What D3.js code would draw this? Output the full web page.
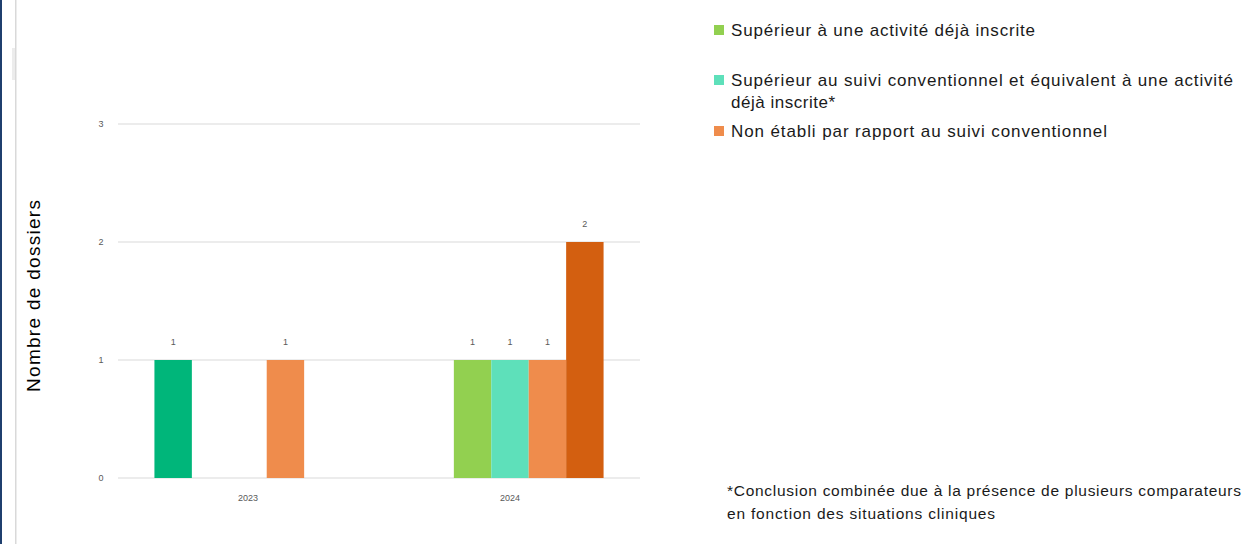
<!DOCTYPE html>
<html>
<head>
<meta charset="utf-8">
<script src="https://cdn.jsdelivr.net/npm/d3@7"></script>
<style>
  body { margin: 0; background: #fff; }
  svg { display: block; font-family: "Liberation Sans", Arial, sans-serif; }
</style>
</head>
<body>
<div id="chart"></div>
<script>
  var years = ["2023", "2024"];
  var seriesNames = ["s1", "Supérieur à une activité déjà inscrite", "Supérieur au suivi conventionnel et équivalent à une activité déjà inscrite*", "Non établi par rapport au suivi conventionnel", "s5"];
  var seriesColors = ["#00b67a", "#92d050", "#5ee0ba", "#ef8c4c", "#d35f10"];
  var seriesValues = [
    [1, 0],
    [0, 1],
    [0, 1],
    [1, 1],
    [0, 2]
  ];
  var yTicks = [0, 1, 2, 3];
  var legendItems = [1, 2, 3];

  var W = 1246, H = 544;
  var svg = d3.select('#chart').append('svg').attr('width', W).attr('height', H);

  // left frame bits
  svg.append('rect').attr('x', 0).attr('y', 0).attr('width', 2).attr('height', H).attr('fill', '#1f3f6e');
  svg.append('rect').attr('x', 15).attr('y', 0).attr('width', 1.5).attr('height', H).attr('fill', '#d9d9d9');
  svg.append('rect').attr('x', 12).attr('y', 48).attr('width', 3).attr('height', 32).attr('fill', '#ececec');

  var x0 = d3.scaleBand().domain(years).range([117, 641]);
  var x1 = d3.scaleBand().domain(d3.range(seriesNames.length)).range([0, x0.bandwidth()]).paddingOuter(1);
  var y = d3.scaleLinear().domain([0, 3]).range([478, 124]);

  // grid
  svg.append('g').selectAll('line').data(yTicks).enter().append('line')
    .attr('x1', 118).attr('x2', 640)
    .attr('y1', d => y(d)).attr('y2', d => y(d))
    .attr('stroke', '#d9d9d9').attr('stroke-width', 1);

  svg.append('g').selectAll('text').data(yTicks).enter().append('text')
    .attr('x', 101).attr('y', d => y(d) + 3)
    .attr('text-anchor', 'middle')
    .attr('font-size', 9).attr('fill', '#595959')
    .text(d => d);

  svg.append('g').selectAll('text').data(years).enter().append('text')
    .attr('x', d => x0(d) + x0.bandwidth() / 2).attr('y', 501)
    .attr('text-anchor', 'middle')
    .attr('font-size', 9).attr('fill', '#595959')
    .text(d => d);

  var bars = [];
  seriesValues.forEach(function (vals, s) {
    vals.forEach(function (v, i) {
      if (v > 0) bars.push({ s: s, year: years[i], v: v });
    });
  });

  svg.append('g').selectAll('rect').data(bars).enter().append('rect')
    .attr('x', d => x0(d.year) + x1(d.s))
    .attr('width', x1.bandwidth())
    .attr('y', d => y(d.v))
    .attr('height', d => y(0) - y(d.v))
    .attr('fill', d => seriesColors[d.s]);

  svg.append('g').selectAll('text').data(bars).enter().append('text')
    .attr('x', d => x0(d.year) + x1(d.s) + x1.bandwidth() / 2)
    .attr('y', d => y(d.v) - 15)
    .attr('text-anchor', 'middle')
    .attr('font-size', 9).attr('fill', '#595959')
    .text(d => d.v);

  svg.append('text')
    .attr('transform', 'translate(40,296) rotate(-90)')
    .attr('text-anchor', 'middle')
    .attr('font-size', 19).attr('fill', '#000')
    .attr('textLength', 192).attr('lengthAdjust', 'spacing')
    .text('Nombre de dossiers');

  // legend
  var legY = [30, 80, 131];
  var lg = svg.append('g');
  legendItems.forEach(function (s, k) {
    lg.append('rect').attr('x', 714).attr('y', legY[k] - 5).attr('width', 10).attr('height', 10).attr('fill', seriesColors[s]);
  });
  lg.append('text').attr('x', 731).attr('y', 36).attr('font-size', 17).attr('fill', '#1a1a1a')
    .attr('textLength', 304).attr('lengthAdjust', 'spacing').text(seriesNames[1]);
  var t2 = lg.append('text').attr('font-size', 17).attr('fill', '#1a1a1a');
  t2.append('tspan').attr('x', 731).attr('y', 86).attr('textLength', 502).attr('lengthAdjust', 'spacing')
    .text('Supérieur au suivi conventionnel et équivalent à une activité');
  t2.append('tspan').attr('x', 731).attr('y', 108).attr('textLength', 104).attr('lengthAdjust', 'spacing').text('déjà inscrite*');
  lg.append('text').attr('x', 731).attr('y', 137).attr('font-size', 17).attr('fill', '#1a1a1a')
    .attr('textLength', 376).attr('lengthAdjust', 'spacing').text(seriesNames[3]);

  var fn = svg.append('text').attr('font-size', 15.5).attr('fill', '#1a1a1a');
  fn.append('tspan').attr('x', 727).attr('y', 496).attr('textLength', 514).attr('lengthAdjust', 'spacing')
    .text('*Conclusion combinée due à la présence de plusieurs comparateurs');
  fn.append('tspan').attr('x', 727).attr('y', 519).attr('textLength', 268).attr('lengthAdjust', 'spacing')
    .text('en fonction des situations cliniques');
</script>
</body>
</html>
